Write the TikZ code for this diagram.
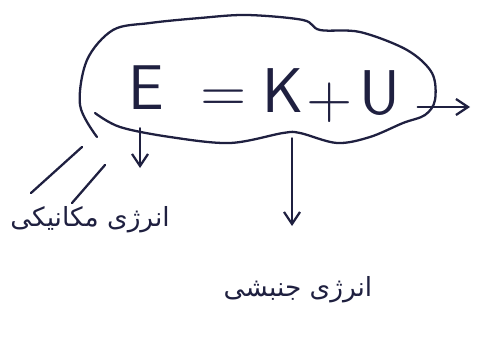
\documentclass[tikz,border=0pt]{standalone}
\usepackage{fontspec}
\usetikzlibrary{arrows.meta}
\TeXXeTstate=1
\newfontfamily\persfont[Script=Arabic]{DejaVu Sans}
\definecolor{ink}{HTML}{1F2040}
\tikzset{
  sym/.style={text=ink, font=\sffamily\fontsize{36}{40}\selectfont, inner sep=0pt},
  word/.style={text=ink, font=\persfont\fontsize{15}{18}\selectfont, inner sep=1pt},
  pen/.style={draw=ink, line width=1.3pt, line cap=round, line join=round},
  down/.style={pen, -{Straight Barb[length=2.4mm, width=3.2mm]}},
}

\begin{document}
\begin{tikzpicture}[x=0.02cm, y=-0.02cm]
  \useasboundingbox (0,0) rectangle (477,338);
  % the formula
  \foreach \n/\t/\px/\py in {E/E/146/88, eq/{=}/224/101, K/K/283/91, plus/{+}/330/103, U/U/380/93}{
    \node[sym] (\n) at (\px,\py) {\t};
  }
  % loop round it
  \draw[pen] plot[smooth, tension=0.55] coordinates {(97,137) (80,105) (87,60) (113,30) (150,23) (200,18)
    (247,15) (303,20) (320,30) (360,32) (407,50) (432,73) (435,100) (425,115) (403,123) (370,137)
    (337,143) (300,133) (283,133) (230,143) (170,137) (120,127) (95,113)};
  % the two energies
  \node[word] (mech) at (90,220) {\beginR انرژی مکانیکی\endR};
  \node[word] (kin) at (298,290) {\beginR انرژی جنبشی\endR};
  \coordinate (Etip) at (140,168);
  \coordinate (Ktip) at (292,226);
  \coordinate (Uend) at (470,107);
  \draw[down, shorten <=0.36cm] (Etip |- E.south) -- (Etip);
  \draw[down, shorten <=0.5cm] (Ktip |- K.south) -- (Ktip);
  \draw[down, shorten <=0.34cm] (U.east |- Uend) -- (Uend);
  \foreach \a/\b in {{82,147}/{31,193}, {105,165}/{72,203}}{
    \draw[pen] (\a) -- (\b);
  }
\end{tikzpicture}
\end{document}
